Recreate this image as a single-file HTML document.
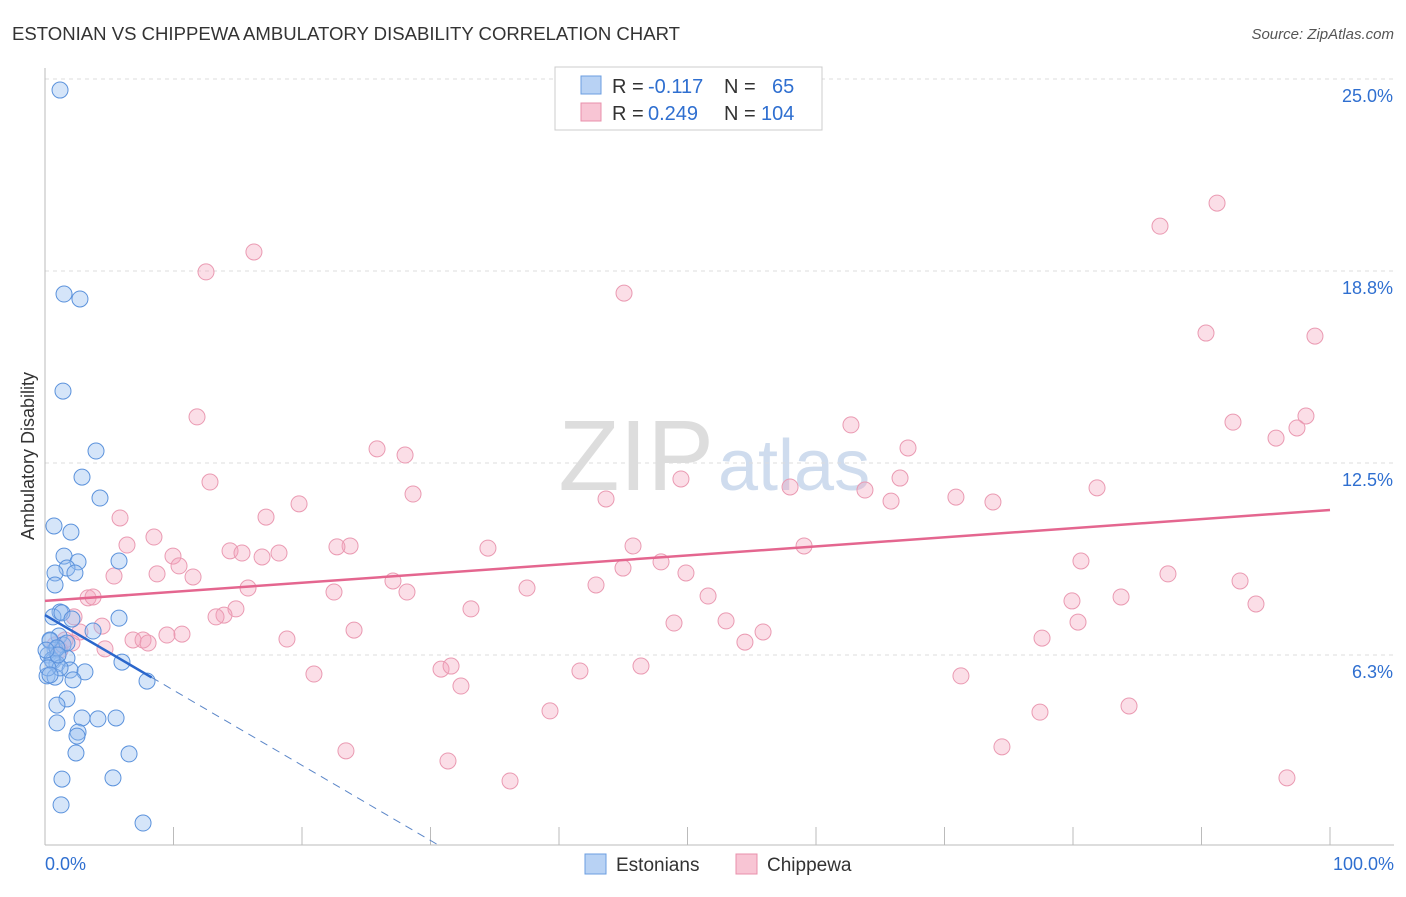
<!DOCTYPE html>
<html><head><meta charset="utf-8"><style>
body{margin:0;background:#fff;font-family:"Liberation Sans",sans-serif}
svg text{font-family:"Liberation Sans",sans-serif}
</style></head><body>
<svg width="1406" height="892" xmlns="http://www.w3.org/2000/svg">
<text x="12" y="40" font-size="18" textLength="668" lengthAdjust="spacingAndGlyphs" fill="#333">ESTONIAN VS CHIPPEWA AMBULATORY DISABILITY CORRELATION CHART</text>
<text x="1394" y="39" font-size="15" fill="#555" text-anchor="end" font-style="italic">Source: ZipAtlas.com</text>
<text x="0" y="0" transform="translate(34,456) rotate(-90)" font-size="18" fill="#333" text-anchor="middle">Ambulatory Disability</text>
<text x="714" y="490" font-size="100" fill="#ddd" text-anchor="end" font-family="Liberation Serif">ZIP</text>
<text x="718" y="490" font-size="72" fill="#cfdcee">atlas</text>
<g id="grid"></g><g id="axes"></g><g id="pts"></g><g id="lines"></g>
<g>
<rect x="555" y="67" width="267" height="63" fill="#fff" stroke="#ccc"/>
<rect x="581" y="76" width="20" height="18" fill="#b8d2f4" stroke="#6b9ee0"/>
<rect x="581" y="103" width="20" height="18" fill="#f8c5d4" stroke="#e890ab"/>
<text x="612" y="93" font-size="20" fill="#333">R =</text>
<text x="648" y="93" font-size="20" fill="#2f6fd0">-0.117</text>
<text x="724" y="93" font-size="20" fill="#333">N =</text>
<text x="772" y="93" font-size="20" fill="#2f6fd0">65</text>
<text x="612" y="120" font-size="20" fill="#333">R =</text>
<text x="648" y="120" font-size="20" fill="#2f6fd0">0.249</text>
<text x="724" y="120" font-size="20" fill="#333">N =</text>
<text x="761" y="120" font-size="20" fill="#2f6fd0">104</text>
</g>
<g>
<rect x="585" y="854" width="21" height="20" fill="#b8d2f4" stroke="#6b9ee0"/>
<text x="616" y="871" font-size="19" fill="#333">Estonians</text>
<rect x="736" y="854" width="21" height="20" fill="#f8c5d4" stroke="#e890ab"/>
<text x="767" y="871" font-size="19" fill="#333">Chippewa</text>
</g>
<text x="45" y="870" font-size="18" fill="#2f6fd0">0.0%</text>
<text x="1394" y="870" font-size="18" fill="#2f6fd0" text-anchor="end">100.0%</text>
</svg>
<script>
const yTicks=[6.25,12.5,18.75,25];
const yTickLabels=["6.3%","12.5%","18.8%","25.0%"];
const xTicks=[0,10,20,30,40,50,60,70,80,90,100];
const bluePx=[[60,90],[64,294],[80,299],[63,391],[96,451],[82,477],[100,498],[54,526],[71,532],[64,556],[119,561],[78,562],[67,568],[75,573],[55,573],[55,585],[60,612],[53,617],[62,613],[119,618],[93,631],[72,619],[59,636],[50,641],[63,645],[55,650],[48,655],[67,658],[53,661],[57,664],[122,662],[70,670],[85,672],[47,676],[55,677],[73,680],[147,681],[67,699],[57,705],[82,718],[98,719],[116,718],[57,723],[78,732],[77,736],[76,753],[129,754],[62,779],[113,778],[61,805],[143,823],[50,640],[52,660],[60,668],[48,668],[67,643],[57,648],[50,675],[58,655],[46,650]];
const pinkPx=[[1217,203],[1160,226],[254,252],[206,272],[624,293],[1206,333],[1315,336],[197,417],[1306,416],[851,425],[1233,422],[1297,428],[1276,438],[377,449],[405,455],[908,448],[681,479],[210,482],[900,478],[790,487],[865,490],[1097,488],[413,494],[606,499],[891,501],[956,497],[993,502],[299,504],[120,518],[266,517],[154,537],[488,548],[350,546],[337,547],[633,546],[804,546],[230,551],[173,556],[242,553],[279,553],[262,557],[127,545],[1081,561],[661,562],[179,566],[623,568],[114,576],[157,574],[193,577],[686,573],[1168,574],[393,581],[1240,581],[527,588],[248,588],[596,585],[407,592],[334,592],[708,596],[88,598],[93,597],[1121,597],[1072,601],[471,609],[236,609],[1256,604],[224,615],[216,617],[74,617],[726,621],[674,623],[1078,622],[102,626],[80,632],[354,630],[763,632],[182,634],[167,635],[133,640],[143,640],[148,643],[287,639],[745,642],[1042,638],[72,643],[105,649],[441,669],[451,666],[641,666],[580,671],[314,674],[961,676],[461,686],[550,711],[1040,712],[1129,706],[1002,747],[346,751],[448,761],[510,781],[1287,778],[60,650],[55,645],[65,640]];
const blueX=bluePx.map(p=>+((p[0]-45)/12.85).toFixed(2));
const blueY=bluePx.map(p=>+((847-p[1])/30.72).toFixed(2));
const pinkX=pinkPx.map(p=>+((p[0]-45)/12.85).toFixed(2));
const pinkY=pinkPx.map(p=>+((847-p[1])/30.72).toFixed(2));
const blueTrend=[[0,7.55],[8.3,5.52]];
const blueTrendDash=[8.3,30.5];
const pinkTrend=[[0,8.01],[100,10.97]];
function sx(v){return 45+v*12.85}
function sy(v){return 847-v*30.72}
const NS="http://www.w3.org/2000/svg";
function mk(t,a,parent){const e=document.createElementNS(NS,t);for(const k in a)e.setAttribute(k,a[k]);document.getElementById(parent).appendChild(e);return e}
yTicks.forEach((t,i)=>{
  const l=mk('line',{x1:45,x2:1394,y1:sy(t),y2:sy(t),stroke:'#ddd','stroke-dasharray':'4,4'},'grid');
  
  
  const tx=mk('text',{x:1393,y:sy(t)+23,'font-size':18,fill:'#2f6fd0','text-anchor':'end'},'grid');
  tx.textContent=yTickLabels[i];
  
  
});
const ax=mk('line',{x1:45,x2:45,y1:68,y2:845,stroke:'#bbb'},'axes');


const bx=mk('line',{x1:45,x2:1394,y1:845,y2:845,stroke:'#bbb'},'axes');


xTicks.forEach(t=>{
  const l=mk('line',{x1:sx(t),x2:sx(t),y1:827,y2:845,stroke:'#bbb'},'axes');
  
  
});
pinkX.forEach((x,i)=>{
  const c=mk('circle',{cx:sx(x),cy:sy(pinkY[i]),r:8,fill:'rgba(244,160,186,0.35)',stroke:'#ea9ab2','stroke-width':1},'pts');
  
  
});
blueX.forEach((x,i)=>{
  const c=mk('circle',{cx:sx(x),cy:sy(blueY[i]),r:8,fill:'rgba(150,190,240,0.4)',stroke:'#5b92dc','stroke-width':1},'pts');
  
  
});
const slope=(blueTrend[1][1]-blueTrend[0][1])/(blueTrend[1][0]-blueTrend[0][0]);
const dl=mk('line',{x1:sx(blueTrendDash[0]),y1:sy(blueTrend[0][1]+slope*blueTrendDash[0]),x2:sx(blueTrendDash[1]),y2:sy(blueTrend[0][1]+slope*blueTrendDash[1]),stroke:'#5b86c8','stroke-dasharray':'8,6','stroke-width':1},'lines');


const bl=mk('line',{x1:sx(blueTrend[0][0]),y1:sy(blueTrend[0][1]),x2:sx(blueTrend[1][0]),y2:sy(blueTrend[1][1]),stroke:'#2b67cc','stroke-width':2.5},'lines');


const pl=mk('line',{x1:sx(pinkTrend[0][0]),y1:sy(pinkTrend[0][1]),x2:sx(pinkTrend[1][0]),y2:sy(pinkTrend[1][1]),stroke:'#e4668f','stroke-width':2.5},'lines');


</script>
</body></html>
